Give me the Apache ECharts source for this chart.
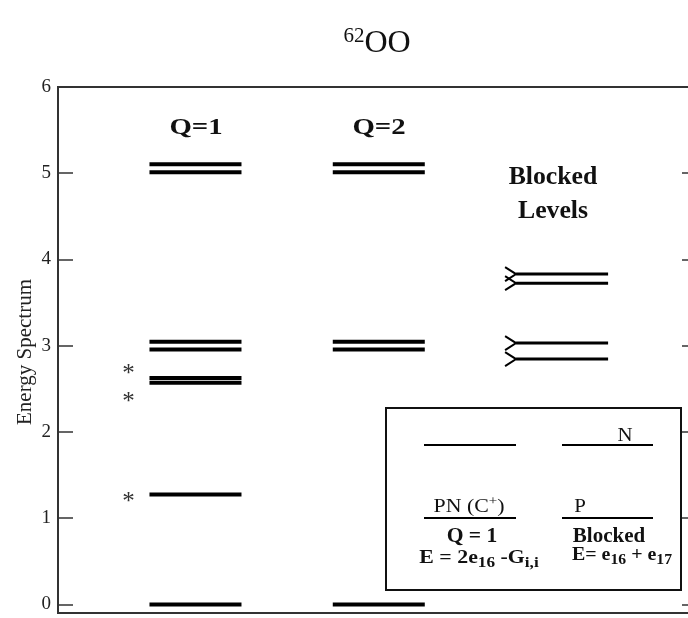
<!DOCTYPE html>
<html>
<head>
<meta charset="utf-8">
<script src="https://cdn.jsdelivr.net/npm/echarts@6/dist/echarts.min.js"></script>
<style>
  html, body { margin: 0; padding: 0; background: #fff; }
  #chart { width: 688px; height: 618px; }
</style>
</head>
<body>
<div id="chart"></div>
<script>
// Level energies for each column of the spectrum
const columnNames = ['Q=1', 'Q=2', 'Blocked Levels'];
const q1Levels = [0, 1.275, 2.57, 2.625, 2.955, 3.045, 5.01, 5.105];
const q2Levels = [0, 2.955, 3.045, 5.01, 5.105];
const blockedLevels = [2.845, 3.03, 3.725, 3.83];
// Energies of the asterisk markers beside the Q=1 column
const starEnergies = [2.72, 2.40, 1.24];
// Y-axis tick labels
const tickValues = [0, 1, 2, 3, 4, 5, 6];

const SERIF = '"Liberation Serif", "DejaVu Serif", serif';
const HALF = 0.251;

function levelData(col, levels) {
  return levels.map(e => [col, e]);
}

function renderLevel(width, chevron) {
  return function (params, api) {
    const c = api.value(0), e = api.value(1);
    const p1 = api.coord([c - HALF, e]);
    const p2 = api.coord([c + HALF, e]);
    const children = [{
      type: 'line',
      shape: { x1: p1[0], y1: p1[1], x2: p2[0], y2: p2[1] },
      style: { stroke: '#000', lineWidth: width }
    }];
    if (chevron) {
      children.push({
        type: 'polyline',
        shape: { points: [[p1[0] - 11, p1[1] - 7], [p1[0], p1[1]], [p1[0] - 11, p1[1] + 7]] },
        style: { stroke: '#000', lineWidth: 2, fill: null }
      });
    }
    return { type: 'group', children: children };
  };
}

// Centered text helper with optional horizontal stretch
function label(x, y, text, font, sx, extra) {
  return Object.assign({
    type: 'text', x: x, y: y, scaleX: sx || 1, z: 11,
    style: { text: text, align: 'center', verticalAlign: 'middle', font: font, fill: '#111' }
  }, extra || {});
}

const chart = echarts.init(document.getElementById('chart'));

const option = {
  backgroundColor: '#fff',
  animation: false,
  grid: {
    left: 58, top: 87, width: 639, bottom: 5,
    outerBoundsMode: 'none', containLabel: false,
    show: true, borderColor: '#333', borderWidth: 2
  },
  xAxis: {
    type: 'value', min: 0.25, max: 3.736,
    axisLine: { show: false }, axisTick: { show: false },
    axisLabel: { show: false }, splitLine: { show: false }
  },
  yAxis: [{
    type: 'value', min: -0.1, max: 6, position: 'left',
    axisLine: { show: true, lineStyle: { color: '#333', width: 2 } },
    axisTick: { show: true, inside: true, length: 15, customValues: tickValues,
      lineStyle: { color: '#333', width: 1.5 } },
    axisLabel: { show: true, customValues: tickValues, margin: 7,
      fontFamily: SERIF, fontSize: 19, color: '#222',
      formatter: v => String(Math.round(v)) },
    splitLine: { show: false }
  }, {
    type: 'value', min: -0.1, max: 6, position: 'right',
    axisLine: { show: true, lineStyle: { color: '#333', width: 2 } },
    axisTick: { show: true, inside: true, length: 15, customValues: tickValues,
      lineStyle: { color: '#333', width: 1.5 } },
    axisLabel: { show: false },
    splitLine: { show: false }
  }],
  series: [
    { type: 'custom', name: columnNames[0], data: levelData(1, q1Levels), renderItem: renderLevel(4, false) },
    { type: 'custom', name: columnNames[1], data: levelData(2, q2Levels), renderItem: renderLevel(4, false) },
    { type: 'custom', name: columnNames[2], data: levelData(3, blockedLevels), renderItem: renderLevel(3, true) },
    {
      type: 'custom', name: 'stars',
      data: starEnergies.map(e => [1, e]),
      renderItem: function (params, api) {
        const p = api.coord([api.value(0) - HALF, api.value(1)]);
        return {
          type: 'text',
          style: { x: p[0] - 21, y: p[1] + 5, text: '*', align: 'center', verticalAlign: 'middle',
            font: '25px ' + SERIF, fill: '#333' }
        };
      }
    }
  ],
  graphic: [
    // y-axis title
    {
      type: 'text', x: 25, y: 352, rotation: Math.PI / 2,
      style: { text: 'Energy Spectrum', align: 'center', verticalAlign: 'middle',
        font: '21px ' + SERIF, fill: '#222' }
    },
    // title with mass-number superscript
    {
      type: 'text', x: 377, y: 26,
      style: {
        text: '{sup|62}{main|OO}', align: 'center', verticalAlign: 'top',
        rich: {
          sup: { fontFamily: SERIF, fontSize: 21, fill: '#111', verticalAlign: 'top', padding: [0, 0, 14, 0] },
          main: { fontFamily: SERIF, fontSize: 32, fill: '#111' }
        }
      }
    },
    // column headings
    label(196, 128, 'Q=1', 'bold 24px ' + SERIF, 1.2),
    label(379, 128, 'Q=2', 'bold 24px ' + SERIF, 1.2),
    label(553, 178, 'Blocked', 'bold 25px ' + SERIF, 1.03),
    label(553, 212, 'Levels', 'bold 25px ' + SERIF, 1.03),
    // key box
    { type: 'rect', shape: { x: 386, y: 408, width: 295, height: 182 }, style: { fill: '#fff', stroke: '#111', lineWidth: 2 }, z: 10 },
    { type: 'line', shape: { x1: 424, y1: 445, x2: 516, y2: 445 }, style: { stroke: '#000', lineWidth: 2 }, z: 11 },
    { type: 'line', shape: { x1: 562, y1: 445, x2: 653, y2: 445 }, style: { stroke: '#000', lineWidth: 2 }, z: 11 },
    { type: 'line', shape: { x1: 424, y1: 518, x2: 516, y2: 518 }, style: { stroke: '#000', lineWidth: 2 }, z: 11 },
    { type: 'line', shape: { x1: 562, y1: 518, x2: 653, y2: 518 }, style: { stroke: '#000', lineWidth: 2 }, z: 11 },
    label(625, 436, 'N', '19px ' + SERIF, 1.1),
    label(580, 507, 'P', '19px ' + SERIF, 1.1),
    {
      type: 'text', x: 469, y: 507, z: 11, scaleX: 1.15,
      style: {
        text: '{t|PN (C}{s|+}{t|)}', align: 'center', verticalAlign: 'middle',
        rich: {
          t: { fontFamily: SERIF, fontSize: 19, fill: '#111' },
          s: { fontFamily: SERIF, fontSize: 13, fill: '#111', padding: [0, 0, 10, 0] }
        }
      }
    },
    label(472, 537, 'Q = 1', 'bold 20px ' + SERIF, 1.08),
    label(609, 537, 'Blocked', 'bold 20px ' + SERIF, 1.05),
    {
      type: 'text', x: 479, y: 558, z: 11, scaleX: 1.15,
      style: {
        text: '{t|E = 2e}{s|16}{t| -G}{s|i,i}', align: 'center', verticalAlign: 'middle',
        rich: {
          t: { fontFamily: SERIF, fontSize: 19, fontWeight: 'bold', fill: '#111' },
          s: { fontFamily: SERIF, fontSize: 15, fontWeight: 'bold', fill: '#111', padding: [11, 0, 0, 0] }
        }
      }
    },
    {
      type: 'text', x: 622, y: 555, z: 11, scaleX: 1.05,
      style: {
        text: '{t|E= e}{s|16}{t| + e}{s|17}', align: 'center', verticalAlign: 'middle',
        rich: {
          t: { fontFamily: SERIF, fontSize: 19, fontWeight: 'bold', fill: '#111' },
          s: { fontFamily: SERIF, fontSize: 15, fontWeight: 'bold', fill: '#111', padding: [11, 0, 0, 0] }
        }
      }
    }
  ]
};

chart.setOption(option);
</script>
</body>
</html>
